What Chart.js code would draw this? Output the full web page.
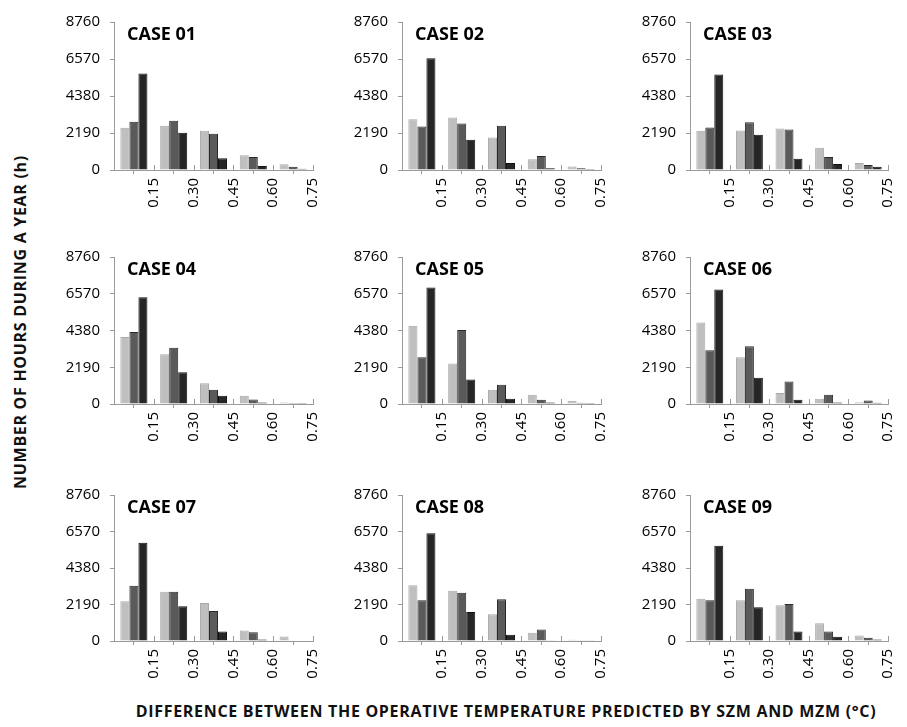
<!DOCTYPE html>
<html>
<head>
<meta charset="utf-8">
<script src="https://cdn.jsdelivr.net/npm/chart.js@4.4.1/dist/chart.umd.min.js"></script>
<style>
  html, body { margin: 0; padding: 0; background: #fff; }
  body { width: 907px; height: 727px; position: relative; overflow: hidden; font-family: "Open Sans", sans-serif; }
  canvas { position: absolute; }
  .axis-title { position: absolute; font-weight: bold; font-size: 16px; letter-spacing: 0.7px; color: #111; white-space: nowrap; }
  #ytitle { left: 20px; top: 322px; transform: translate(-50%, -50%) rotate(-90deg); }
  #xtitle { left: 506px; top: 711px; transform: translate(-50%, -50%); }
</style>
</head>
<body>
<div class="axis-title" id="ytitle">NUMBER OF HOURS DURING A YEAR (h)</div>
<div class="axis-title" id="xtitle">DIFFERENCE BETWEEN THE OPERATIVE TEMPERATURE PREDICTED BY SZM AND MZM (°C)</div>
<script>
// Panel names, bin edges (°C) and hour ticks
const caseNames = ['CASE 01', 'CASE 02', 'CASE 03', 'CASE 04', 'CASE 05', 'CASE 06', 'CASE 07', 'CASE 08', 'CASE 09'];
const binEdges = [0, 0.15, 0.30, 0.45, 0.60, 0.75];
const hourTicks = [0, 2190, 4380, 6570, 8760];

// Hours per bin, one row per case (bins 0-0.15, 0.15-0.30, 0.30-0.45, 0.45-0.60, 0.60-0.75)
const seriesLight = [
  [2500, 2620, 2320, 880, 340],
  [3010, 3110, 1920, 640, 200],
  [2320, 2340, 2450, 1320, 410],
  [3990, 2970, 1230, 490, 95],
  [4670, 2420, 850, 550, 190],
  [4860, 2780, 660, 320, 110],
  [2380, 2950, 2280, 630, 270],
  [3350, 3010, 1610, 500, 80],
  [2530, 2450, 2150, 1070, 330]
];
const seriesMid = [
  [2860, 2920, 2150, 770, 190],
  [2580, 2750, 2620, 830, 100],
  [2520, 2830, 2390, 770, 300],
  [4290, 3350, 850, 265, 60],
  [2780, 4410, 1140, 250, 80],
  [3200, 3440, 1340, 550, 210],
  [3320, 2950, 1800, 520, 30],
  [2450, 2890, 2510, 690, 40],
  [2450, 3140, 2220, 575, 190]
];
const seriesDark = [
  [5710, 2200, 700, 230, 80],
  [6610, 1790, 410, 100, 60],
  [5650, 2090, 660, 360, 190],
  [6360, 1890, 490, 95, 55],
  [6940, 1460, 320, 95, 55],
  [6830, 1570, 250, 95, 75],
  [5900, 2090, 575, 96, 30],
  [6460, 1740, 380, 40, 40],
  [5710, 2030, 575, 250, 96]
];

const shades = {
  light: { fill: '#bfbfbf', edge: '#a9a9a9' },
  mid:   { fill: '#5a5a5a', edge: '#2a2a2a' },
  dark:  { fill: '#262626', edge: '#111111' }
};

const binMids = binEdges.slice(0, -1).map((e, i) => (e + binEdges[i + 1]) / 2);

// Plot-area frames for the 3x3 grid
const colFrames = [[114, 323], [402, 611], [690, 898]];
const rowFrames = [[15, 170], [250, 404], [488, 641]];
const AXIS_W = 60, AXIS_H = 50, PAD_TOP = 12, PAD_RIGHT = 12;
const AXIS_GREY = '#9a9a9a';

// Case label inside the plot and the upper half of the x tick marks
const panelDecor = {
  id: 'panelDecor',
  afterDraw(chart, args, opts) {
    const { ctx, chartArea, scales } = chart;
    ctx.save();
    ctx.font = 'bold 18px "Open Sans"';
    ctx.fillStyle = '#000';
    ctx.textBaseline = 'alphabetic';
    ctx.fillText(opts.text, chartArea.left + 13, chartArea.top + 18);
    ctx.strokeStyle = AXIS_GREY;
    ctx.lineWidth = 1;
    scales.x.ticks.forEach(t => {
      const x = Math.round(scales.x.getPixelForValue(t.value)) + 0.5;
      ctx.beginPath();
      ctx.moveTo(x, chartArea.bottom);
      ctx.lineTo(x, chartArea.bottom - 5);
      ctx.stroke();
    });
    ctx.restore();
  }
};

const toPoints = vals => binMids.map((m, i) => ({ x: m, y: vals[i] }));

caseNames.forEach((name, k) => {
  const [L, R] = colFrames[k % 3];
  const [T, B] = rowFrames[Math.floor(k / 3)];
  const cv = document.createElement('canvas');
  const w = AXIS_W + (R - L) + PAD_RIGHT;
  const h = PAD_TOP + (B - T) + AXIS_H;
  cv.width = w; cv.height = h;
  cv.style.left = (L - AXIS_W) + 'px';
  cv.style.top = (T - PAD_TOP) + 'px';
  cv.style.width = w + 'px';
  cv.style.height = h + 'px';
  document.body.appendChild(cv);

  const mk = (label, vals, shade) => ({
    label, data: toPoints(vals),
    backgroundColor: shade.fill, borderColor: shade.edge, borderWidth: 1,
    categoryPercentage: 0.68, barPercentage: 1.0
  });

  new Chart(cv, {
    type: 'bar',
    data: {
      datasets: [
        mk('Series 1', seriesLight[k], shades.light),
        mk('Series 2', seriesMid[k], shades.mid),
        mk('Series 3', seriesDark[k], shades.dark)
      ]
    },
    options: {
      responsive: false,
      animation: false,
      devicePixelRatio: 1,
      layout: { padding: { top: PAD_TOP, right: PAD_RIGHT, left: 0, bottom: 0 } },
      plugins: { legend: { display: false }, tooltip: { enabled: false }, panelDecor: { text: name } },
      scales: {
        x: {
          type: 'linear', offset: false,
          min: binEdges[0], max: binEdges[binEdges.length - 1],
          afterBuildTicks: s => { s.ticks = binEdges.map(v => ({ value: v })); },
          afterFit: s => { s.height = AXIS_H; },
          border: { color: AXIS_GREY, width: 1 },
          grid: { drawOnChartArea: false, drawTicks: true, tickLength: 4, color: AXIS_GREY },
          ticks: {
            minRotation: 90, maxRotation: 90, autoSkip: false, padding: 4,
            color: '#000', font: { family: '"Open Sans"', size: 15 },
            callback: v => (v === 0 ? '' : v.toFixed(2))
          }
        },
        y: {
          min: 0, max: hourTicks[hourTicks.length - 1],
          afterBuildTicks: s => { s.ticks = hourTicks.map(v => ({ value: v })); },
          afterFit: s => { s.width = AXIS_W; },
          border: { color: AXIS_GREY, width: 1 },
          grid: { drawOnChartArea: false, drawTicks: true, tickLength: 4, color: AXIS_GREY },
          ticks: { color: '#000', padding: 10, font: { family: '"Open Sans"', size: 15 }, callback: v => String(v) }
        }
      }
    },
    plugins: [panelDecor]
  });
});
</script>
</body>
</html>
